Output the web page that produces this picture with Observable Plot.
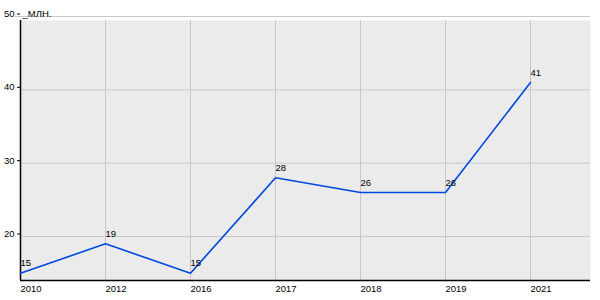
<!DOCTYPE html>
<html>
<head>
<meta charset="utf-8">
<script src="https://cdn.jsdelivr.net/npm/d3@7"></script>
<script src="https://cdn.jsdelivr.net/npm/@observablehq/plot@0.6"></script>
<style>
  html, body { margin: 0; padding: 0; background: #fff; }
  #chart { width: 600px; height: 300px; }
</style>
</head>
<body>
<div id="chart"></div>
<script>
const years = ["2010", "2012", "2016", "2017", "2018", "2019", "2021"];
const values = [15, 19, 15, 28, 26, 26, 41];
const yTicks = [20, 30, 40, 50];
const unitLabel = "_МЛН.";

const data = years.map((y, i) => ({year: y, value: values[i]}));
const font = "'Liberation Sans', Arial, sans-serif";
const fs = 9.5;

const chart = Plot.plot({
  width: 600,
  height: 300,
  marginTop: 16,
  marginBottom: 20,
  marginLeft: 20,
  marginRight: 10,
  style: {fontFamily: font, fontSize: fs + "px", color: "#000", background: "#fff"},
  x: {type: "point", domain: years, padding: 0, insetRight: 60},
  y: {domain: [14, 50], range: [280, 16]},
  marks: [
    Plot.frame({fill: "#ebebeb", stroke: null, insetTop: 4}),
    Plot.ruleY(yTicks.slice(0, -1), {stroke: "#c8c8c8", strokeWidth: 1}),
    Plot.ruleY([50], {stroke: "#c8c8c8", strokeWidth: 1, insetLeft: -5}),
    Plot.ruleX(years, {y1: 14, y2: 49.45, stroke: "#c8c8c8", strokeWidth: 1}),
    Plot.axisY({ticks: yTicks, tickSize: 3, tickPadding: 3, label: null, dy: -2.5, fontSize: fs}),
    Plot.text([unitLabel], {x: () => years[0], y: () => 50, text: d => d, textAnchor: "start", dx: 2, dy: -3, fontSize: fs}),
    Plot.axisX({tickSize: 0, tickPadding: 5, label: null, textAnchor: "start", fontSize: fs}),
    Plot.ruleY([14], {stroke: "#000", strokeWidth: 1.5}),
    Plot.ruleX([years[0]], {y1: 14, y2: 49.45, stroke: "#000", strokeWidth: 1.5}),
    Plot.line(data, {x: "year", y: "value", stroke: "#0048e0", strokeWidth: 1.6}),
    Plot.text(data, {x: "year", y: "value", text: d => String(d.value), textAnchor: "start", dx: 0, dy: -10, fontSize: fs, fill: "#000"})
  ]
});
document.getElementById("chart").appendChild(chart);
</script>
</body>
</html>
